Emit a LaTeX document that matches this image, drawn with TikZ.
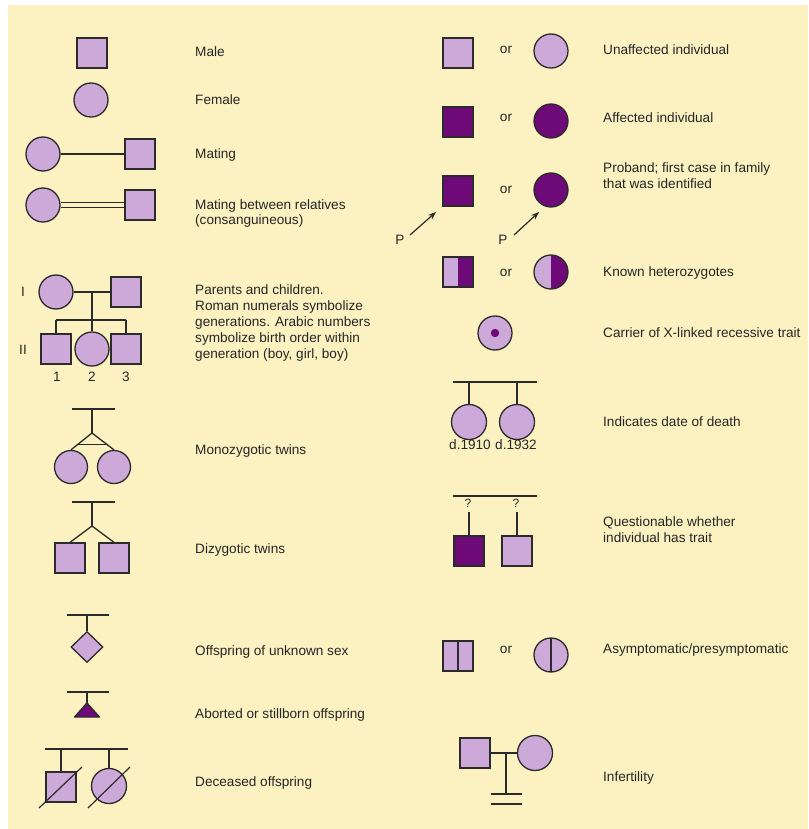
\documentclass[tikz,border=0pt]{standalone}
\usepackage{fontspec}
\setmainfont{Liberation Sans}
\usetikzlibrary{arrows.meta,shapes.geometric,calc}
\definecolor{bg}{HTML}{FCF1C1}
\definecolor{lp}{HTML}{CDA9D9}
\definecolor{dp}{HTML}{6E0A78}
\definecolor{ink}{HTML}{2B2B2B}
\definecolor{txt}{HTML}{262626}
\begin{document}
\begin{tikzpicture}[x=1pt,y=-1pt,
  ln/.style={draw=ink,line width=1.3pt},
  msq/.style={rectangle,draw=ink,line width=1.3pt,fill=lp,minimum size=30pt,inner sep=0pt},
  fcir/.style={circle,draw=ink,line width=1.3pt,fill=lp,minimum size=34pt,inner sep=0pt},
  aff/.style={fill=dp},
  halfdark/.style={path picture={\fill[dp] (path picture bounding box.north) rectangle (path picture bounding box.south east);}},
  midline/.style={path picture={\draw[ink,line width=1.3pt] (path picture bounding box.north) -- (path picture bounding box.south);}},
  carrierdot/.style={path picture={\fill[dp] (path picture bounding box.center) circle (4.2pt);}},
  lbl/.style={anchor=west,inner sep=0pt,text=txt,font=\fontsize{13.6}{15.8}\selectfont,align=left},
  sm/.style={inner sep=0pt,text=txt,font=\fontsize{13.6}{15.8}\selectfont},
  qm/.style={inner sep=0pt,text=txt,font=\fontsize{12}{14}\selectfont},
  arr/.style={draw=ink,line width=1.2pt,-{Stealth[length=8pt,width=6pt]}},
]
\useasboundingbox (0,0) rectangle (808,829);
\fill[white] (0,0) rectangle (808,829);
\fill[bg] (8,5) rectangle (808,829);

% ---------------- left column ----------------
\node[msq] (male) at (92,53) {};
\node[lbl] (tmale) at (195,52) {Male};

\node[fcir] (female) at (91,100) {};
\node[lbl] (tfemale) at (195,100) {Female};

\node[fcir] (matf) at (43,154) {};
\node[msq] (matm) at (140,154) {};
\draw[ln] (matf) -- (matm);
\node[lbl] (tmat) at (195,155) {Mating};

\node[fcir] (conf) at (43,205) {};
\node[msq] (conm) at (140,205) {};
\draw[draw=ink,line width=1.2pt,double=bg,double distance=4.4pt] (conf) -- (conm);
\node[lbl] (tcon) at (195,213.5) {Mating between relatives\\(consanguineous)};

% parents and children
\node[sm] (gI) at (23,292) {I};
\node[sm] (gII) at (23,350) {II};
\node[fcir] (pf) at (56,292) {};
\node[msq] (pm) at (126,292) {};
\draw[ln] (pf) -- (pm);
\coordinate (pmid) at (92,292);
\coordinate (sibL) at (56,320);
\coordinate (sibR) at (126,320);
\node[msq] (ch1) at (56,349) {};
\node[fcir] (ch2) at (92,349) {};
\node[msq] (ch3) at (126,349) {};
\draw[ln] (sibL) -- (sibR);
\draw[ln] (pmid) -- (ch2);
\draw[ln] (sibL) -- (ch1);
\draw[ln] (sibR) -- (ch3);
\node[sm] (n1) at (57,377) {1};
\node[sm] (n2) at (92,377) {2};
\node[sm] (n3) at (126,377) {3};
\node[lbl] (tpar) at (195,323) {Parents and children.\\Roman numerals symbolize\\generations. Arabic numbers\\symbolize birth order within\\generation (boy, girl, boy)};

% monozygotic twins
\coordinate (mzL) at (72,409);
\coordinate (mzR) at (115,409);
\coordinate (mzT) at (92,409);
\coordinate (mzJ) at (92,433);
\node[fcir,minimum size=33pt] (mz1) at (71,467) {};
\node[fcir,minimum size=33pt] (mz2) at (114,467) {};
\draw[ln] (mzL) -- (mzR);
\draw[ln] (mzT) -- (mzJ);
\draw[ln] (mzJ) -- (mz1.north);
\draw[ln] (mzJ) -- (mz2.north);
\draw[ln] ($(mzJ)!0.667!(mz1.north)$) -- ($(mzJ)!0.667!(mz2.north)$);
\node[lbl] (tmz) at (195,451) {Monozygotic twins};

% dizygotic twins
\coordinate (dzL) at (72,502);
\coordinate (dzR) at (115,502);
\coordinate (dzT) at (92,502);
\coordinate (dzJ) at (92,526);
\node[msq] (dz1) at (70,558) {};
\node[msq] (dz2) at (114,558) {};
\draw[ln] (dzL) -- (dzR);
\draw[ln] (dzT) -- (dzJ);
\draw[ln] (dzJ) -- (dz1.north);
\draw[ln] (dzJ) -- (dz2.north);
\node[lbl] (tdz) at (195,550) {Dizygotic twins};

% unknown sex
\coordinate (unL) at (67,615);
\coordinate (unR) at (109,615);
\coordinate (unT) at (87,615);
\node[diamond,draw=ink,line width=1.3pt,fill=lp,inner sep=0pt,minimum width=32pt,minimum height=31pt] (unk) at (87,647) {};
\draw[ln] (unL) -- (unR);
\draw[ln] (unT) -- (unk.north);
\node[lbl] (tunk) at (195,652) {Offspring of unknown sex};

% aborted
\coordinate (abL) at (67,692);
\coordinate (abR) at (109,692);
\coordinate (abT) at (87,692);
\coordinate (abA) at (87,703);
\draw[ln] (abL) -- (abR);
\draw[ln] (abT) -- (abA);
\draw[ln,fill=dp,line join=round] (abA) -- (99.5,717) -- (74.5,717) -- cycle;
\node[lbl] (tab) at (195,715) {Aborted or stillborn offspring};

% deceased
\coordinate (deL) at (45,749);
\coordinate (deR) at (128,749);
\coordinate (de1t) at (61,749);
\coordinate (de2t) at (109,749);
\node[msq] (de1) at (61,787) {};
\node[fcir,minimum size=35pt] (de2) at (109,786) {};
\draw[ln] (deL) -- (deR);
\draw[ln] (de1t) -- (de1);
\draw[ln] (de2t) -- (de2);
\coordinate (s1a) at (39,808);
\coordinate (s1b) at (82,767);
\coordinate (s2a) at (88,808);
\coordinate (s2b) at (130,767);
\draw[ln,line width=1.2pt] (s1a) -- (s1b);
\draw[ln,line width=1.2pt] (s2a) -- (s2b);
\node[lbl] (tde) at (195,783) {Deceased offspring};

% ---------------- right column ----------------
\node[msq] (u1) at (458,53) {};
\node[sm] (or1) at (506,50) {or};
\node[fcir] (u2) at (551,51) {};
\node[lbl] (tu) at (603,50) {Unaffected individual};

\node[msq,aff] (a1) at (458,122) {};
\node[sm] (or2) at (506,118) {or};
\node[fcir,aff] (a2) at (551,121) {};
\node[lbl] (ta) at (603,118) {Affected individual};

\node[msq,aff] (pb1) at (458,191) {};
\node[sm] (or3) at (506,190) {or};
\node[fcir,aff] (pb2) at (551,190) {};
\node[sm] (P1) at (400,240) {P};
\node[sm] (P2) at (503,240) {P};
\coordinate (ar1s) at (410,235);
\coordinate (ar1e) at (436,212);
\coordinate (ar2s) at (514,235);
\coordinate (ar2e) at (539,212);
\draw[arr] (ar1s) -- (ar1e);
\draw[arr] (ar2s) -- (ar2e);
\node[lbl] (tpb) at (603,175.5) {Proband; first case in family\\that was identified};

\node[msq,halfdark] (h1) at (458,272) {};
\node[sm] (or4) at (506,273) {or};
\node[fcir,halfdark] (h2) at (551,272) {};
\node[lbl] (th) at (603,273) {Known heterozygotes};

\node[fcir,carrierdot] (cx) at (495,333) {};
\node[lbl] (tcx) at (603,333) {Carrier of X-linked recessive trait};

% date of death
\coordinate (ddL) at (453,382);
\coordinate (ddR) at (537,382);
\coordinate (dd1t) at (469,382);
\coordinate (dd2t) at (517,382);
\node[fcir,minimum size=35pt] (dd1) at (469,422) {};
\node[fcir,minimum size=35pt] (dd2) at (517,422) {};
\draw[ln] (ddL) -- (ddR);
\draw[ln] (dd1t) -- (dd1);
\draw[ln] (dd2t) -- (dd2);
\node[sm] (d1910) at (470,445) {d.1910};
\node[sm] (d1932) at (516,445) {d.1932};
\node[lbl] (tdd) at (603,422) {Indicates date of death};

% questionable
\coordinate (qL) at (453,496);
\coordinate (qR) at (537,496);
\draw[ln] (qL) -- (qR);
\node[qm] (qm1) at (468,503) {?};
\node[qm] (qm2) at (516,503) {?};
\coordinate (q1t) at (469,512);
\coordinate (q2t) at (517,512);
\node[msq,aff] (q1) at (469,551) {};
\node[msq] (q2) at (517,551) {};
\draw[ln] (q1t) -- (q1);
\draw[ln] (q2t) -- (q2);
\node[lbl] (tq) at (603,529.5) {Questionable whether\\individual has trait};

% asymptomatic
\node[msq,midline] (as1) at (458,656) {};
\node[sm] (or5) at (506,650) {or};
\node[fcir,midline] (as2) at (551,655) {};
\node[lbl] (tas) at (603,650) {Asymptomatic/presymptomatic};

% infertility
\node[msq] (if1) at (475,753) {};
\node[fcir,minimum size=35pt] (if2) at (535,753) {};
\draw[ln] (if1) -- (if2);
\coordinate (ifm) at (506,753);
\coordinate (ifb) at (506,794);
\draw[ln] (ifm) -- (ifb);
\coordinate (b1L) at (491,794);
\coordinate (b1R) at (522,794);
\coordinate (b2L) at (491,804);
\coordinate (b2R) at (522,804);
\draw[ln] (b1L) -- (b1R);
\draw[ln] (b2L) -- (b2R);
\node[lbl] (tif) at (603,778) {Infertility};
\end{tikzpicture}
\end{document}
